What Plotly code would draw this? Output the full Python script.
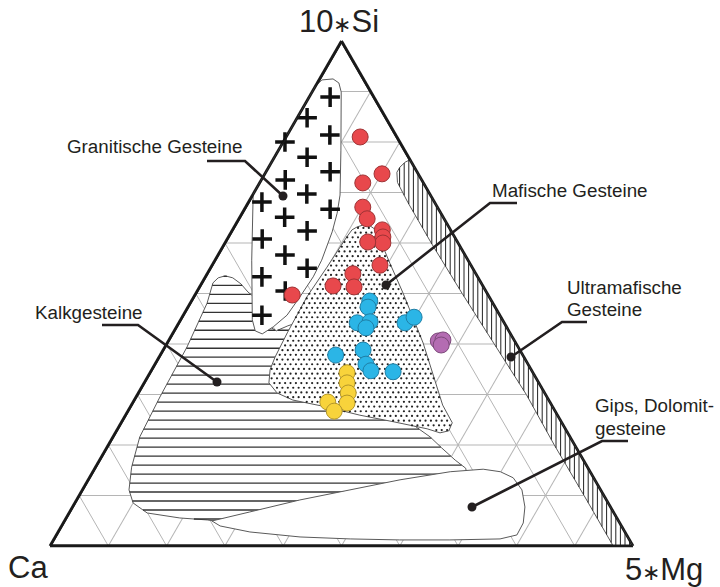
import plotly.graph_objects as go

# ---------------------------------------------------------------
# Compositions as fractions of (10*Si + Ca + 5*Mg); Ca = 1 - Si - Mg
# ---------------------------------------------------------------
si_red = [0.810, 0.737, 0.719, 0.671, 0.648, 0.626, 0.612, 0.600, 0.602, 0.556, 0.539, 0.515, 0.513, 0.497]
mg_red = [0.127, 0.201, 0.177, 0.201, 0.220, 0.257, 0.265, 0.271, 0.244, 0.288, 0.250, 0.228, 0.265, 0.167]

si_blue = [0.485, 0.473, 0.442, 0.444, 0.432, 0.442, 0.453, 0.378, 0.388, 0.360, 0.347, 0.345]
mg_blue = [0.306, 0.309, 0.306, 0.327, 0.326, 0.388, 0.398, 0.301, 0.343, 0.362, 0.377, 0.416]

si_purple = [0.406, 0.408, 0.398]
mg_purple = [0.463, 0.470, 0.472]

si_yellow = [0.343, 0.323, 0.303, 0.283, 0.285, 0.267]
mg_yellow = [0.338, 0.348, 0.360, 0.368, 0.334, 0.354]

# field boundaries
granite_si = [0.911, 0.923, 0.925, 0.917, 0.899, 0.784, 0.695, 0.659, 0.622, 0.566, 0.533, 0.493,
              0.457, 0.434, 0.420, 0.426, 0.448, 0.566, 0.697]
granite_mg = [0.000, 0.005, 0.023, 0.037, 0.050, 0.107, 0.150, 0.163, 0.173, 0.183, 0.185, 0.182,
              0.178, 0.166, 0.154, 0.139, 0.123, 0.063, 0.000]

mafic_si = [0.632, 0.638, 0.626, 0.560, 0.501, 0.402, 0.279, 0.244, 0.228, 0.224, 0.232, 0.246,
            0.259, 0.275, 0.289, 0.303, 0.323, 0.349, 0.374, 0.422, 0.493, 0.552, 0.612, 0.626]
mafic_mg = [0.211, 0.225, 0.246, 0.303, 0.355, 0.439, 0.534, 0.568, 0.570, 0.557, 0.531, 0.466,
            0.402, 0.338, 0.272, 0.238, 0.214, 0.203, 0.199, 0.196, 0.194, 0.199, 0.203, 0.205]

kalk_si = [0.521, 0.531, 0.535, 0.531, 0.519, 0.503, 0.487, 0.444, 0.426, 0.436, 0.444, 0.259,
           0.234, 0.216, 0.194, 0.170, 0.154, 0.111, 0.0515, 0.0495, 0.0515, 0.0554, 0.0653,
           0.0851, 0.111, 0.156, 0.216, 0.295, 0.394, 0.481]
kalk_mg = [0.019, 0.023, 0.033, 0.048, 0.068, 0.088, 0.113, 0.142, 0.175, 0.190, 0.207, 0.471,
           0.513, 0.544, 0.575, 0.610, 0.636, 0.665, 0.403, 0.257, 0.244, 0.195, 0.134,
           0.100, 0.080, 0.062, 0.046, 0.041, 0.038, 0.029]

gips_si = [0.0495, 0.0673, 0.0911, 0.111, 0.131, 0.147, 0.152, 0.147, 0.135, 0.111, 0.0772,
           0.0455, 0.0218, 0.0139, 0.0119, 0.0119, 0.0139, 0.0178, 0.0277, 0.0396]
gips_mg = [0.253, 0.309, 0.383, 0.459, 0.535, 0.613, 0.667, 0.699, 0.727, 0.754, 0.776,
           0.789, 0.790, 0.765, 0.680, 0.594, 0.508, 0.420, 0.329, 0.272]

# ultramafic band along the Ca-free edge
band_si = [0.765, 0.0, 0.0, 0.1, 0.2, 0.3, 0.4, 0.5, 0.6, 0.68, 0.72, 0.74, 0.75, 0.76]
band_ca = [0.0, 0.0, 0.034, 0.034, 0.035, 0.033, 0.038, 0.043, 0.046, 0.046, 0.044, 0.035, 0.025, 0.011]

# granite field symbols
cross_si = [0.889, 0.814, 0.741, 0.667, 0.848, 0.770, 0.697, 0.624, 0.550,
            0.800, 0.725, 0.651, 0.576, 0.505, 0.681, 0.608, 0.533, 0.457]
cross_mg = [0.036, 0.073, 0.110, 0.147, 0.017, 0.056, 0.092, 0.129, 0.166,
            0.003, 0.041, 0.077, 0.115, 0.151, 0.023, 0.060, 0.097, 0.135]

FONT = "Liberation Sans, Arial, sans-serif"
INK = "#231f20"
W, H = 720, 587


def ca_of(si, mg):
    return [1 - s - m for s, m in zip(si, mg)]


def mg_of(si, ca):
    return [1 - s - c for s, c in zip(si, ca)]


# plane coordinates of the ternary: u runs along the base, v = Si (height)
def to_uv(si, mg):
    return [m + s / 2 for s, m in zip(si, mg)], list(si)


def from_uv(u, v):
    mg = u - v / 2
    return v, 1 - v - mg, mg


def scan(p_list, q_list, levels):
    """Cut the polygon with lines p = level; return (level, q0, q1) spans inside it."""
    n = len(p_list)
    spans = []
    for lv in levels:
        qs = []
        for i in range(n):
            p1, q1 = p_list[i], q_list[i]
            p2, q2 = p_list[(i + 1) % n], q_list[(i + 1) % n]
            if (p1 <= lv < p2) or (p2 <= lv < p1):
                qs.append(q1 + (lv - p1) * (q2 - q1) / (p2 - p1))
        qs.sort()
        for j in range(0, len(qs) - 1, 2):
            spans.append((lv, qs[j], qs[j + 1]))
    return spans


def levels(lo, hi, step):
    out = []
    k = int(lo / step) + 1
    while k * step < hi:
        out.append(k * step)
        k += 1
    return out


def inside(u, v, pu, pv):
    n = len(pu)
    res = False
    j = n - 1
    for i in range(n):
        if (pv[i] > v) != (pv[j] > v):
            x = pu[i] + (v - pv[i]) * (pu[j] - pu[i]) / (pv[j] - pv[i])
            if u < x:
                res = not res
        j = i
    return res


def seg_trace(points, color, width):
    a, b, c = [], [], []
    for (u0, v0), (u1, v1) in points:
        for u, v in ((u0, v0), (u1, v1)):
            s, ca, m = from_uv(u, v)
            a.append(s); b.append(ca); c.append(m)
        a.append(None); b.append(None); c.append(None)
    return go.Scatterternary(a=a, b=b, c=c, mode="lines", line=dict(color=color, width=width),
                             hoverinfo="skip", showlegend=False, connectgaps=False)


def region(si, mg, name):
    ca = ca_of(si, mg)
    return go.Scatterternary(a=si + si[:1], b=ca + ca[:1], c=mg + mg[:1],
                             mode="lines", fill="toself", fillcolor="white",
                             line=dict(color="#5a5a5a", width=1), name=name,
                             hoverinfo="skip", showlegend=False)


fig = go.Figure()

# Kalkgesteine: horizontal hatching
fig.add_trace(region(kalk_si, kalk_mg, "Kalkgesteine"))
ku, kv = to_uv(kalk_si, kalk_mg)
kspans = scan(kv, ku, levels(min(kv), max(kv), 0.0178))
fig.add_trace(seg_trace([((q0, lv), (q1, lv)) for lv, q0, q1 in kspans], "#333333", 1.3))

# Gips, Dolomitgesteine
fig.add_trace(region(gips_si, gips_mg, "Gips, Dolomitgesteine"))

# Granitische Gesteine
fig.add_trace(region(granite_si, granite_mg, "Granitische Gesteine"))

# Mafische Gesteine: stippled
fig.add_trace(region(mafic_si, mafic_mg, "Mafische Gesteine"))
mu, mv = to_uv(mafic_si, mafic_mg)
du, dv = 5.4 / 583, 4.7 / 505
dot_a, dot_b, dot_c = [], [], []
row = 0
v = min(mv) + dv * 0.6
while v < max(mv):
    u = min(mu) + (du / 2 if row % 2 else 0.0)
    while u < max(mu):
        if inside(u, v, mu, mv):
            s, ca, m = from_uv(u, v)
            dot_a.append(s); dot_b.append(ca); dot_c.append(m)
        u += du
    v += dv
    row += 1
fig.add_trace(go.Scatterternary(a=dot_a, b=dot_b, c=dot_c, mode="markers",
                                marker=dict(size=2.2, color="#222222", line=dict(width=0)),
                                hoverinfo="skip", showlegend=False))

# Ultramafische Gesteine: vertical hatching
band_mg = mg_of(band_si, band_ca)
fig.add_trace(region(band_si, band_mg, "Ultramafische Gesteine"))
bu, bv = to_uv(band_si, band_mg)
bspans = scan(bu, bv, levels(min(bu), max(bu), 4.6 / 583))
fig.add_trace(seg_trace([((lv, q0), (lv, q1)) for lv, q0, q1 in bspans], "#222222", 1.0))

# granite symbols
fig.add_trace(go.Scatterternary(a=cross_si, b=ca_of(cross_si, cross_mg), c=cross_mg, mode="markers",
                                marker=dict(symbol="cross-thin", size=14, line=dict(color="#111111", width=3.5)),
                                hoverinfo="skip", showlegend=False, cliponaxis=False))

# samples
for si, mg, fill, edge in [
    (si_red, mg_red, "#e8484c", "#9e3335"),
    (si_blue, mg_blue, "#2bb5e6", "#1f7fa6"),
    (si_purple, mg_purple, "#b46cb2", "#7d4a7b"),
    (si_yellow, mg_yellow, "#f8d33b", "#b3962a"),
]:
    fig.add_trace(go.Scatterternary(a=si, b=ca_of(si, mg), c=mg, mode="markers",
                                    marker=dict(size=16, color=fill, line=dict(color=edge, width=1)),
                                    showlegend=False))

# triangle frame
fig.add_trace(go.Scatterternary(a=[1, 0, 0, 1], b=[0, 1, 0, 0], c=[0, 0, 1, 0], mode="lines",
                                line=dict(color="#1a1a1a", width=2.8), cliponaxis=False,
                                hoverinfo="skip", showlegend=False))

axis = dict(showticklabels=False, ticks="", tick0=0, dtick=0.1, showgrid=True,
            gridcolor="#b5b5b5", gridwidth=1, showline=True, linecolor="#1a1a1a",
            linewidth=2.8, layer="below traces", title=dict(text=""))


def px(x):
    return x / W


def py(y):
    return 1 - y / H


annotations = []


def label(text, x, y, size=18.8, anchor="left"):
    annotations.append(dict(text=text, x=px(x), y=py(y), xref="paper", yref="paper",
                            xanchor=anchor, yanchor="middle", showarrow=False,
                            font=dict(family=FONT, size=size, color=INK), align="left"))


STAR = '<span style="font-size:22px">\u2217</span>'
label("10" + STAR + "Si", 339, 21, 31, "center")
label("Ca", 28, 567, 31, "center")
label("5" + STAR + "Mg", 664, 569, 31, "center")
label("Granitische Gesteine", 65, 147)
label("Kalkgesteine", 33, 312)
label("Mafische Gesteine", 490, 190)
label("Ultramafische", 565, 287)
label("Gesteine", 565, 309)
label("Gips, Dolomit-", 593, 405)
label("gesteine", 593, 428)

shapes = []
leaders = [
    [(207, 161), (245, 161), (283, 196)],
    [(102, 325), (138, 325), (217, 382)],
    [(517, 203), (490, 203), (386, 285)],
    [(587, 322), (562, 322), (511, 357)],
    [(628, 441), (602, 441), (472, 507)],
]
for pts in leaders:
    path = "M " + " L ".join(f"{px(x):.5f},{py(y):.5f}" for x, y in pts)
    shapes.append(dict(type="path", xref="paper", yref="paper", path=path,
                       line=dict(color=INK, width=2.6)))
    ex, ey = pts[-1]
    shapes.append(dict(type="circle", xref="paper", yref="paper",
                       x0=px(ex - 4.5), x1=px(ex + 4.5), y0=py(ey + 4.5), y1=py(ey - 4.5),
                       fillcolor=INK, line=dict(width=0)))

fig.update_layout(
    width=W, height=H,
    margin=dict(l=0, r=0, t=0, b=0),
    paper_bgcolor="white",
    showlegend=False,
    ternary=dict(
        sum=1,
        bgcolor="white",
        domain=dict(x=[50 / W, 633 / W], y=[1 - 546 / H, 1 - 41 / H]),
        aaxis=axis, baxis=axis, caxis=axis,
    ),
    annotations=annotations,
    shapes=shapes,
)

fig.write_html("out.html")
